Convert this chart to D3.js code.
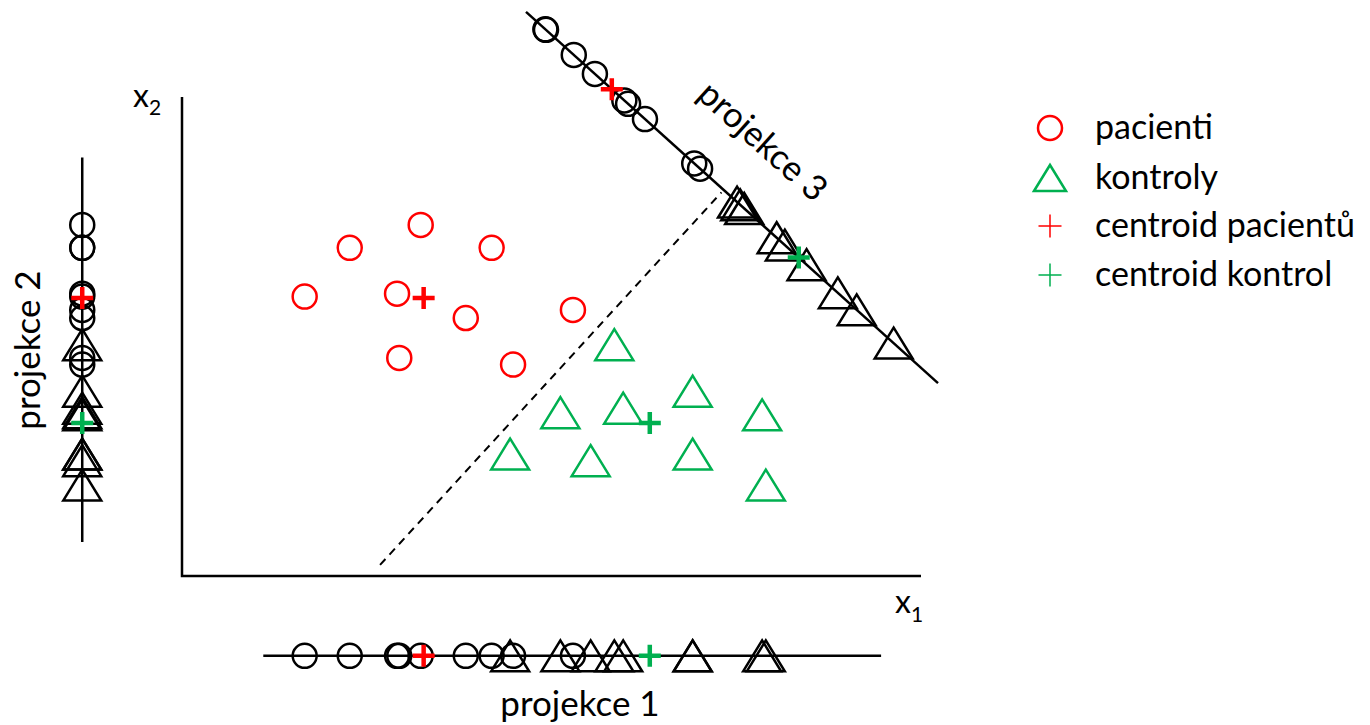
<!DOCTYPE html>
<html>
<head>
<meta charset="utf-8">
<script src="https://cdn.jsdelivr.net/npm/d3@7"></script>
<style>
  body { margin: 0; background: #fff; }
  svg text { font-family: Lato, "Noto Sans", sans-serif; fill: #000; }
</style>
</head>
<body>
<svg id="chart" width="1370" height="725"></svg>
<script>
// Values, in plot units (x1 = 0..10, x2 = 0..6.48)
var pacientiX = [1.66, 2.27, 3.23, 4.19, 2.91, 3.84, 5.29, 2.94, 4.48];
var pacientiY = [3.78, 4.44, 4.75, 4.44, 3.82, 3.49, 3.60, 2.95, 2.86];

var kontrolyX = [5.85, 6.91, 5.97, 5.12, 7.85, 4.44, 5.53, 6.91, 7.90];
var kontrolyY = [3.13, 2.50, 2.27, 2.21, 2.18, 1.65, 1.56, 1.65, 1.23];

var centroidPacientu = [3.27, 3.76];
var centroidKontrol = [6.33, 2.07];

// where the three projection lines sit (plot units)
var proj1Y = -1.08, proj1Range = [1.10, 9.46];
var proj2X = -1.35, proj2Range = [0.46, 5.66];
var proj3Start = [4.655, 7.632], proj3End = [10.23, 2.61];

// dashed separating line
var hraniceStart = [2.68, 0.15], hraniceEnd = [7.30, 5.19];

var legendLabels = ["pacienti", "kontroly", "centroid pacientů", "centroid kontrol"];

var RED = "#ff0000", GREEN = "#00b050";
var FONT = 35;

var svg = d3.select("#chart");

var x = d3.scaleLinear().domain([0, 10]).range([182, 921]);
var y = d3.scaleLinear().domain([0, 6.48]).range([576, 97]);

var pacienti = pacientiX.map(function(v, i){ return [v, pacientiY[i]]; });
var kontroly = kontrolyX.map(function(v, i){ return [v, kontrolyY[i]]; });

// triangle path centred on its bounding box
function triangle(w, h){
  return "M" + (-w/2) + "," + (h/2) + "L0," + (-h/2) + "L" + (w/2) + "," + (h/2) + "Z";
}
function plus(s){
  return "M" + (-s/2) + ",0H" + (s/2) + "M0," + (-s/2) + "V" + (s/2);
}

// orthogonal projection onto projection 3 (both axes have the same px per unit)
var dx = proj3End[0] - proj3Start[0], dy = proj3End[1] - proj3Start[1];
var dl = Math.sqrt(dx*dx + dy*dy);
function onLine3(p){
  var t = ((p[0] - proj3Start[0]) * dx + (p[1] - proj3Start[1]) * dy) / dl / dl;
  return [proj3Start[0] + t*dx, proj3Start[1] + t*dy];
}

function drawMarks(g, pos, kind, color, sw){
  var sel = g.selectAll(null).data(pos).enter();
  if(kind === "circle"){
    sel.append("circle")
      .attr("cx", function(d){ return d[0]; })
      .attr("cy", function(d){ return d[1]; })
      .attr("r", 12)
      .attr("fill", "none").attr("stroke", color).attr("stroke-width", sw);
  } else {
    sel.append("path")
      .attr("d", triangle(38, 31))
      .attr("transform", function(d){ return "translate(" + d[0] + "," + d[1] + ")"; })
      .attr("fill", "none").attr("stroke", color).attr("stroke-width", sw);
  }
}

function drawCentroid(g, p, color){
  g.append("path")
    .attr("d", plus(22))
    .attr("transform", "translate(" + p[0] + "," + p[1] + ")")
    .attr("stroke", color).attr("stroke-width", 4.5).attr("fill", "none");
}

// ---- main plot ----
var plot = svg.append("g");

plot.append("line")
  .attr("x1", x(hraniceStart[0])).attr("y1", y(hraniceStart[1]))
  .attr("x2", x(hraniceEnd[0])).attr("y2", y(hraniceEnd[1]))
  .attr("stroke", "#000").attr("stroke-width", 2).attr("stroke-dasharray", "8,6");

plot.append("path")
  .attr("d", "M" + x(0) + "," + y(6.48) + "V" + y(0) + "H" + x(10))
  .attr("fill", "none").attr("stroke", "#000").attr("stroke-width", 2.5);

drawMarks(plot, pacienti.map(function(p){ return [x(p[0]), y(p[1])]; }), "circle", RED, 2.5);
drawMarks(plot, kontroly.map(function(p){ return [x(p[0]), y(p[1])]; }), "triangle", GREEN, 2.5);
drawCentroid(plot, [x(centroidPacientu[0]), y(centroidPacientu[1])], RED);
drawCentroid(plot, [x(centroidKontrol[0]), y(centroidKontrol[1])], GREEN);

var x2 = plot.append("text").attr("x", 133).attr("y", 107).attr("font-size", 32);
x2.append("tspan").text("x");
x2.append("tspan").attr("dy", 8).attr("font-size", 21).text("2");
var x1 = plot.append("text").attr("x", 895).attr("y", 613).attr("font-size", 32);
x1.append("tspan").text("x");
x1.append("tspan").attr("dy", 9).attr("font-size", 21).text("1");

// ---- projection 1 (onto x1) ----
var p1 = svg.append("g");
p1.append("line")
  .attr("x1", x(proj1Range[0])).attr("x2", x(proj1Range[1]))
  .attr("y1", y(proj1Y)).attr("y2", y(proj1Y))
  .attr("stroke", "#000").attr("stroke-width", 2.5);
drawMarks(p1, pacienti.map(function(p){ return [x(p[0]), y(proj1Y)]; }), "circle", "#000", 2.5);
drawMarks(p1, kontroly.map(function(p){ return [x(p[0]), y(proj1Y)]; }), "triangle", "#000", 2.5);
drawCentroid(p1, [x(centroidPacientu[0]), y(proj1Y)], RED);
drawCentroid(p1, [x(centroidKontrol[0]), y(proj1Y)], GREEN);
p1.append("text").attr("x", 580).attr("y", 716).attr("font-size", FONT)
  .attr("text-anchor", "middle").text("projekce 1");

// ---- projection 2 (onto x2) ----
var p2 = svg.append("g");
p2.append("line")
  .attr("x1", x(proj2X)).attr("x2", x(proj2X))
  .attr("y1", y(proj2Range[0])).attr("y2", y(proj2Range[1]))
  .attr("stroke", "#000").attr("stroke-width", 2.5);
drawMarks(p2, pacienti.map(function(p){ return [x(proj2X), y(p[1])]; }), "circle", "#000", 2.5);
drawMarks(p2, kontroly.map(function(p){ return [x(proj2X), y(p[1])]; }), "triangle", "#000", 2.5);
drawCentroid(p2, [x(proj2X), y(centroidPacientu[1])], RED);
drawCentroid(p2, [x(proj2X), y(centroidKontrol[1])], GREEN);
p2.append("text").attr("transform", "translate(40,350) rotate(-90)").attr("font-size", FONT)
  .attr("text-anchor", "middle").text("projekce 2");

// ---- projection 3 (diagonal) ----
var p3 = svg.append("g");
p3.append("line")
  .attr("x1", x(proj3Start[0])).attr("y1", y(proj3Start[1]))
  .attr("x2", x(proj3End[0])).attr("y2", y(proj3End[1]))
  .attr("stroke", "#000").attr("stroke-width", 2.5);
function px3(p){ var q = onLine3(p); return [x(q[0]), y(q[1])]; }
drawMarks(p3, pacienti.map(px3), "circle", "#000", 2.5);
drawMarks(p3, kontroly.map(px3), "triangle", "#000", 2.5);
drawCentroid(p3, px3(centroidPacientu), RED);
drawCentroid(p3, px3(centroidKontrol), GREEN);
var angle3 = Math.atan2(y(proj3End[1]) - y(proj3Start[1]), x(proj3End[0]) - x(proj3Start[0])) * 180 / Math.PI;
p3.append("text").attr("transform", "translate(763,141) rotate(" + angle3 + ")").attr("font-size", FONT)
  .attr("text-anchor", "middle").attr("dy", "0.35em").text("projekce 3");

// ---- legend ----
var legend = svg.append("g").attr("transform", "translate(1050,0)");
var rows = [128, 178, 226, 275];
legend.append("circle").attr("cx", 0).attr("cy", rows[0]).attr("r", 12)
  .attr("fill", "none").attr("stroke", RED).attr("stroke-width", 2.5);
legend.append("path").attr("d", triangle(32, 26)).attr("transform", "translate(0," + rows[1] + ")")
  .attr("fill", "none").attr("stroke", GREEN).attr("stroke-width", 2.5);
legend.append("path").attr("d", plus(23)).attr("transform", "translate(0," + rows[2] + ")")
  .attr("stroke", RED).attr("stroke-width", 1.5);
legend.append("path").attr("d", plus(23)).attr("transform", "translate(0," + rows[3] + ")")
  .attr("stroke", GREEN).attr("stroke-width", 1.5);
legend.selectAll("text.lbl").data(legendLabels).enter().append("text")
  .attr("class", "lbl")
  .attr("x", 45)
  .attr("y", function(d, i){ return rows[i] + 11; })
  .attr("font-size", FONT - 1)
  .text(function(d){ return d; });
</script>
</body>
</html>
